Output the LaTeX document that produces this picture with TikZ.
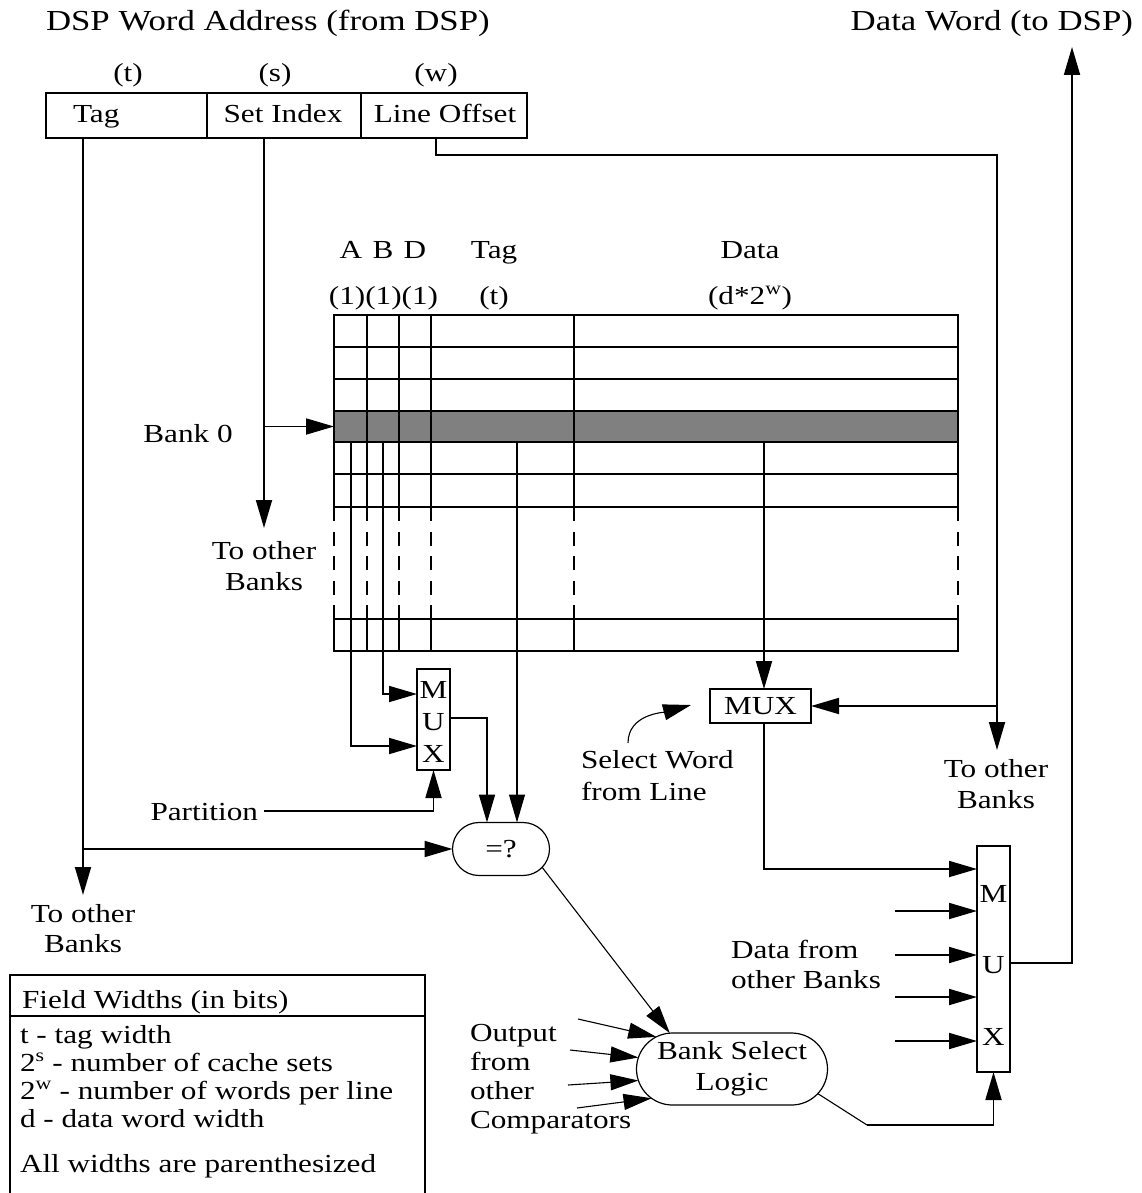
\documentclass[tikz,border=0pt]{standalone}
\usepackage{fontspec}
\setmainfont{Liberation Serif}[FakeStretch=1.2]
\usetikzlibrary{arrows.meta,shapes.misc}
\definecolor{bandgray}{HTML}{808080}
\begin{document}
\begin{tikzpicture}[x=1pt,y=-1pt,
  every node/.style={inner sep=0pt,outer sep=0pt,font=\fontsize{26}{31}\selectfont},
  wire/.style={line width=1.8pt},
  fine/.style={line width=1.1pt},
  tip/.style={-{Triangle[length=28pt,width=16pt]}},
  box/.style={draw,line width=1.8pt,rectangle},
  oval/.style={draw,line width=1.2pt,rounded rectangle},
  tb/.style={anchor=base},
  tl/.style={anchor=base west},
  tr/.style={anchor=base east},
  big/.style={font=\fontsize{29}{34}\selectfont},
  grid/.style={line width=1.8pt,line cap=rect},
]
\useasboundingbox (0,0) rectangle (1141,1193);

% ---------- top labels ----------
\node[tl,big] (title) at (46,31) {DSP Word Address (from DSP)};
\node[tr,big] (dword) at (1133,31) {Data Word (to DSP)};
\node[tb] (wt) at (128,82) {(t)};
\node[tb] (ws) at (275,82) {(s)};
\node[tb] (ww) at (436,82) {(w)};

% ---------- address register ----------
\node[box,minimum width=161pt,minimum height=45pt] (cTag) at (126.5,115.5) {};
\node[box,minimum width=154pt,minimum height=45pt] (cSet) at (284,115.5) {};
\node[box,minimum width=166pt,minimum height=45pt] (cOff) at (444,115.5) {};
\node[tl] (tTag) at (73,123) {Tag};
\node[tb] (tSet) at (283,123) {Set Index};
\node[tb] (tOff) at (445,123) {Line Offset};

% ---------- table ----------
\fill[bandgray] (334,411) rectangle (958,442);
\node[minimum width=624pt,minimum height=31pt] (row) at (646,426.5) {};
\foreach \y in {315,347,379,411,442,474,507,619,651}
  \draw[grid] (334,\y) -- (958,\y);
\foreach \x in {334,367,399,431,574,958} {
  \draw[grid] (\x,315) -- (\x,507);
  \draw[line width=1.8pt,dash pattern=on 14pt off 10.5pt] (\x,507) -- (\x,619);
  \draw[grid] (\x,619) -- (\x,651);
}
\node[tb] (hA) at (351,258) {A};
\node[tb] (hB) at (383,258) {B};
\node[tb] (hD) at (415,258) {D};
\node[tb] (hTag) at (494,258) {Tag};
\node[tb] (hData) at (750,258) {Data};
\node[tb] (wABD) at (383.5,304) {(1)(1)(1)};
\node[tb] (wTag) at (494,304) {(t)};
\node[tb] (wData) at (750,304) {(d*2\textsuperscript{w})};

% ---------- left labels ----------
\node[tb] (bank0) at (188,442) {Bank 0};
\node[tb] (oth1a) at (264,559) {To other};
\node[tb] (oth1b) at (264,590) {Banks};
\node[tr] (part) at (258,820) {Partition};
\node[tb] (oth2a) at (83,922) {To other};
\node[tb] (oth2b) at (83,952) {Banks};

% ---------- muxes and comparators ----------
\node[box,minimum width=33pt,minimum height=101pt] (mux1) at (433.5,719.5) {};
\node[tb] (m1M) at (433.5,698) {M};
\node[tb] (m1U) at (433.5,730) {U};
\node[tb] (m1X) at (433.5,762) {X};

\node[box,minimum width=101pt,minimum height=34pt] (mux2) at (760.5,706) {MUX};

\node[box,minimum width=33pt,minimum height=226pt] (mux3) at (993.5,959) {};
\node[tb] (m3M) at (993.5,902) {M};
\node[tb] (m3U) at (993.5,973) {U};
\node[tb] (m3X) at (993.5,1045) {X};

\node[oval,minimum width=97pt,minimum height=53pt] (eq) at (501,849) {=?};
\node[oval,minimum width=191pt,minimum height=72pt,align=center] (bsl) at (732,1069) {Bank Select\\Logic};

% ---------- right labels ----------
\node[tl] (selA) at (581,768) {Select Word};
\node[tl] (selB) at (581,800) {from Line};
\node[tb] (oth3a) at (996,777) {To other};
\node[tb] (oth3b) at (996,808) {Banks};
\node[tl] (dfA) at (731,958) {Data from};
\node[tl] (dfB) at (731,988) {other Banks};
\node[tl] (outA) at (470,1041) {Output};
\node[tl] (outB) at (470,1070) {from};
\node[tl] (outC) at (470,1099) {other};
\node[tl] (outD) at (470,1128) {Comparators};

% ---------- field widths legend ----------
\draw[wire] (10,1197) -- (10,975) -- (425,975) -- (425,1197);
\draw[wire] (10,1016) -- (425,1016);
\node[tl] (fwH) at (22,1008) {Field Widths (in bits)};
\node[tl] (fw1) at (20,1043) {t - tag width};
\node[tl] (fw2) at (20,1071) {2\textsuperscript{s} - number of cache sets};
\node[tl] (fw3) at (20,1099) {2\textsuperscript{w} - number of words per line};
\node[tl] (fw4) at (20,1127) {d - data word width};
\node[tl] (fw5) at (20,1172) {All widths are parenthesized};

% ---------- connectors ----------
\coordinate (tagJ) at (83,849);
\coordinate (setJ) at (264,426.5);
\coordinate (offX) at (997,155);
\draw[wire] (cTag.south -| tagJ) -- (tagJ);
\draw[wire,tip] (tagJ) -- (eq.west);
\draw[wire,tip] (tagJ) -- (83,895);
\draw[wire,tip] (cSet.south -| setJ) -- (264,528);
\draw[wire,tip] (setJ) -- (row.west);
\draw[wire,tip] (436,138) -- (436,155) -- (offX) -- (997,750);
\draw[wire,tip] (mux2.east -| offX) -- (mux2.east);

\draw[wire,tip] (351,442) |- (417,746);
\draw[wire,tip] (383,442) |- (417,694);
\draw[wire,tip] (450,718) -| (487,822.5);
\draw[fine,tip] (517,442) -- (517,822.5);
\draw[wire,tip] (264,811) -| (mux1.south);

\draw[wire,tip] (764,442) -- (764,689);
\draw[wire,tip] (764,723) |- (977,869);
\foreach \y in {911,955,997,1041}
  \draw[wire,tip] (895,\y) -- (977,\y);
\draw[wire,tip] (1010,963) -| (1072,47);

\draw[fine,tip] (628,743) to[out=90,in=195] (691,705);

\draw[fine,tip] (eq.-24) -- (bsl.150);
\draw[fine,tip] (578,1019) -- (bsl.157);
\draw[fine,tip] (570,1050) -- (bsl.173);
\draw[fine,tip] (568,1085) -- (bsl.187);
\draw[fine,tip] (577,1108) -- (bsl.200);
\draw[fine] (bsl.-16) -- (867,1125);
\draw[wire,tip] (867,1125) -| (mux3.south);
\end{tikzpicture}
\end{document}
